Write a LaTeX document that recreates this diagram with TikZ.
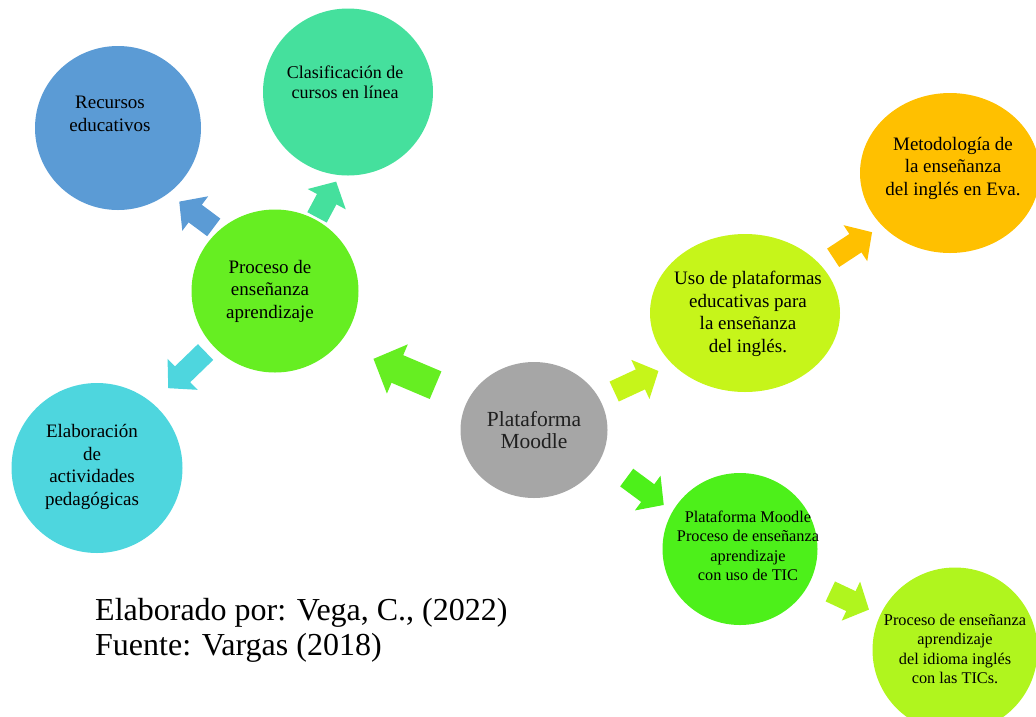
\documentclass[tikz,border=0pt]{standalone}
\usepackage{fontspec}
\setmainfont{Liberation Serif}
\usetikzlibrary{shapes.geometric,arrows.meta,calc}

\definecolor{recblue}{HTML}{5B9BD5}
\definecolor{clagreen}{HTML}{45E09D}
\definecolor{progreen}{HTML}{66EE22}
\definecolor{elacyan}{HTML}{4ED6DE}
\definecolor{moogray}{HTML}{A6A6A6}
\definecolor{usolime}{HTML}{C6F51A}
\definecolor{metorange}{HTML}{FFC000}
\definecolor{pmgreen}{HTML}{4DF01A}
\definecolor{ticlime}{HTML}{B0F51E}

\begin{document}
\begin{tikzpicture}[x=1pt, y=-1pt,
    bub/.style={ellipse, draw=none, inner sep=0pt},
    txt/.style={align=center, font=\fontsize{19}{22.5}\selectfont},
    smalltxt/.style={align=center, font=\fontsize{16.3}{19.5}\selectfont},
    blk/.style={line width=22pt, -{Triangle[width=42pt,length=20pt]}},
    bigblk/.style={line width=30pt, -{Triangle[width=52pt,length=26pt]}}]
    \useasboundingbox (0,0) rectangle (1036,716);

    % Circles
    \coordinate (rec) at (118,128);
    \coordinate (cla) at (348,92);
    \coordinate (pro) at (275,291);
    \coordinate (ela) at (97,468);
    \coordinate (moo) at (534,430);
    \coordinate (uso) at (745,313);
    \coordinate (met) at (950,173);
    \coordinate (pm) at (740,549);
    \coordinate (tic) at (955,650);

    % Block arrows
    \draw[blk, draw=recblue] ($(pro)!.39!(rec)$) -- ($(pro)!.61!(rec)+(0,10)$);
    \draw[blk, draw=clagreen] ($(pro)!.37!(cla)+(15,0)$) -- ($(pro)!.55!(cla)+(21,0)$);
    \draw[blk, draw=elacyan] ($(pro)!.39!(ela)+(0,-8)$) -- ($(pro)!.60!(ela)+(0,-9)$);
    \draw[bigblk, draw=progreen] ($(moo)!.38!(pro)+(0,8)$) -- ($(moo)!.62!(pro)+(0,15)$);
    \draw[blk, draw=usolime] ($(moo)!.38!(uso)+(0,6)$) -- ($(moo)!.59!(uso)+(0,10)$);
    \draw[blk, draw=metorange] ($(uso)!.43!(met)+(0,5)$) -- ($(uso)!.62!(met)+(0,6)$);
    \draw[blk, draw=pmgreen] ($(moo)!.45!(pm)+(0,-6)$) -- ($(moo)!.63!(pm)$);
    \draw[blk, draw=ticlime] ($(pm)!.42!(tic)$) -- ($(pm)!.6!(tic)$);

    \node[bub, fill=recblue, minimum width=166pt, minimum height=164pt] (recc) at (rec) {};
    \node[bub, fill=clagreen, minimum width=170pt, minimum height=167pt] (clac) at (cla) {};
    \node[bub, fill=progreen, minimum width=167pt, minimum height=163pt] (proc) at (pro) {};
    \node[bub, fill=elacyan, minimum width=171pt, minimum height=170pt] (elac) at (ela) {};
    \node[bub, fill=moogray, minimum width=147pt, minimum height=136pt] (mooc) at (moo) {};
    \node[bub, fill=usolime, minimum width=190pt, minimum height=158pt] (usoc) at (uso) {};
    \node[bub, fill=metorange, minimum width=180pt, minimum height=160pt] (metc) at (met) {};
    \node[bub, fill=pmgreen, minimum width=155pt, minimum height=152pt] (pmc) at (pm) {};
    \node[bub, fill=ticlime, minimum width=165pt, minimum height=165pt] (ticc) at (tic) {};

    % Texts
    \node[txt] (rect) at ([shift={(-8,-14)}]rec) {Recursos\\educativos};
    \node[txt, font=\fontsize{18}{20.5}\selectfont] (clat) at ([shift={(-3,-10)}]cla) {Clasificación de\\cursos en línea};
    \node[txt] (prot) at ([shift={(-5,0)}]pro) {Proceso de\\enseñanza\\aprendizaje};
    \node[txt] (elat) at ([shift={(-5,-1)}]ela) {Elaboración\\de\\actividades\\pedagógicas};
    \node[txt, text=black!88, font=\fontsize{21.5}{22.5}\selectfont] (moot) at (moo) {Plataforma\\Moodle};
    \node[txt] (usot) at ([shift={(3,1)}]uso) {Uso de plataformas\\educativas para\\la enseñanza\\del inglés.};
    \node[txt] (mett) at ([shift={(3,-5)}]met) {Metodología de\\la enseñanza\\del inglés en Eva.};
    \node[smalltxt] (pmt) at ([shift={(8,-3)}]pm) {Plataforma Moodle\\Proceso de enseñanza\\aprendizaje\\con uso de TIC};
    \node[smalltxt] (tict) at ([shift={(0,-1)}]tic) {Proceso de enseñanza\\aprendizaje\\del idioma inglés\\con las TICs.};

    % Source
    \node[anchor=north west, align=left, inner sep=0pt, font=\fontsize{32}{35}\selectfont] (src) at (95,598)
        {Elaborado por: Vega, C., (2022)\\Fuente: Vargas (2018)};
\end{tikzpicture}
\end{document}
